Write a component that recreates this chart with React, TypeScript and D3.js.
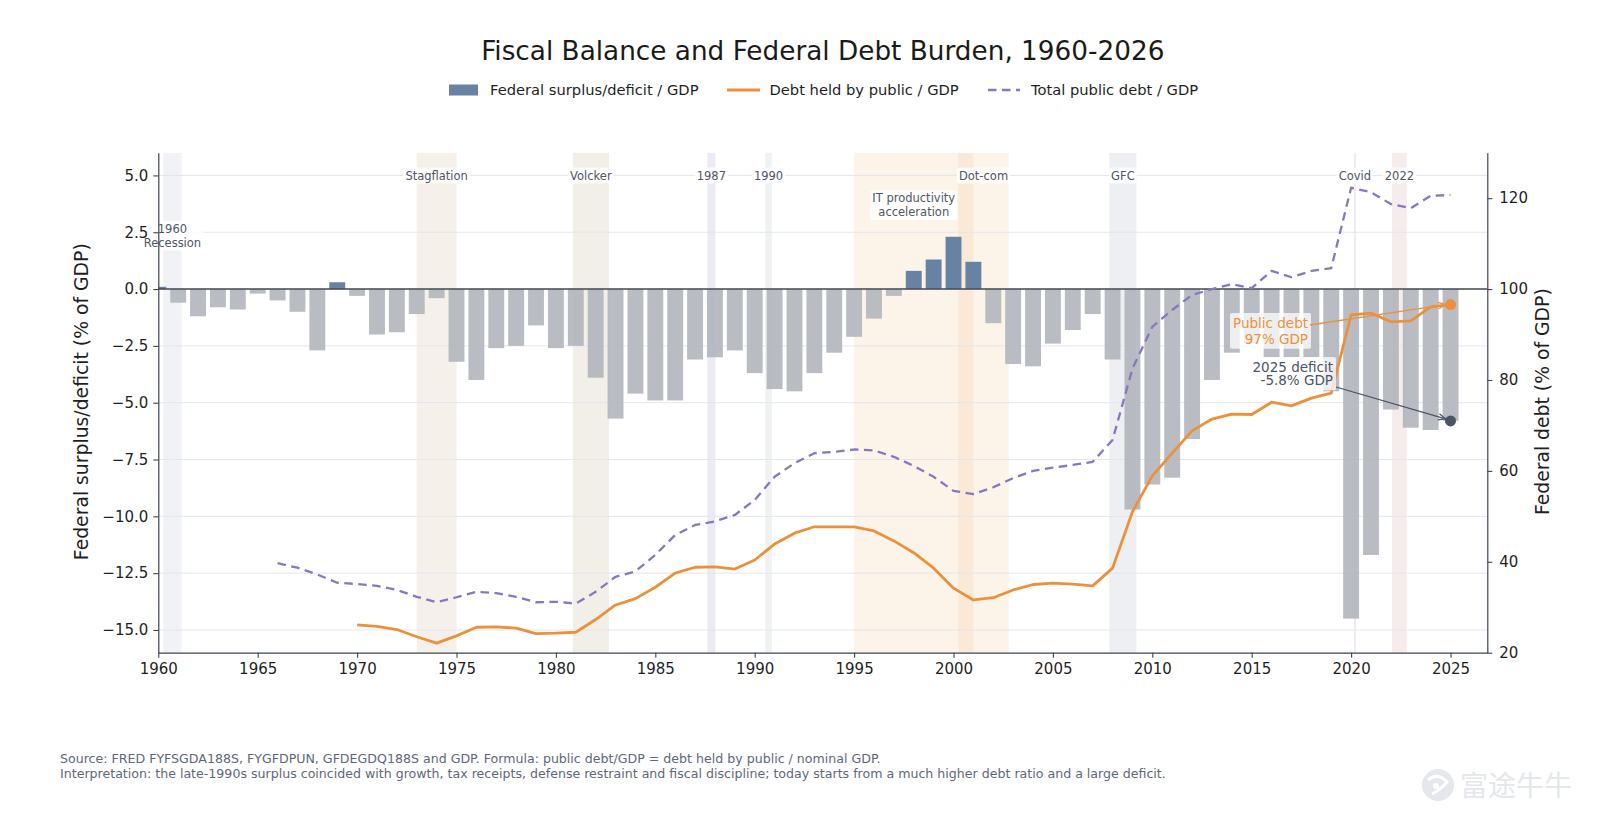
import React, { useEffect, useRef } from "react";
import * as d3 from "d3";

// ---------------- DATA ----------------
const balanceYears = d3.range(1960, 2026);
const balance = [
  0.1, -0.6, -1.2, -0.8, -0.9, -0.2, -0.5, -1.0, -2.7, 0.3,
  -0.3, -2.0, -1.9, -1.1, -0.4, -3.2, -4.0, -2.6, -2.5, -1.6,
  -2.6, -2.5, -3.9, -5.7, -4.6, -4.9, -4.9, -3.1, -3.0, -2.7,
  -3.7, -4.4, -4.5, -3.7, -2.8, -2.1, -1.3, -0.3, 0.8, 1.3,
  2.3, 1.2, -1.5, -3.3, -3.4, -2.4, -1.8, -1.1, -3.1, -9.7,
  -8.6, -8.3, -6.6, -4.0, -2.8, -2.4, -3.0, -3.0, -3.0, -4.5,
  -14.5, -11.7, -5.3, -6.1, -6.2, -5.8,
];

const publicDebtYears = d3.range(1970, 2026);
const publicDebt = [
  26.1, 25.8, 25.1, 23.5, 22.1, 23.7, 25.6, 25.7, 25.4, 24.2,
  24.3, 24.5, 27.3, 30.5, 31.9, 34.4, 37.5, 38.8, 38.9, 38.4,
  40.4, 43.9, 46.3, 47.7, 47.7, 47.7, 46.8, 44.6, 42.0, 38.6,
  34.2, 31.6, 32.1, 33.8, 35.0, 35.3, 35.1, 34.7, 38.6, 51.0,
  58.9, 63.9, 68.8, 71.4, 72.5, 72.4, 75.1, 74.3, 76.0, 77.1,
  94.3, 94.7, 92.8, 93.0, 96.1, 96.6,
];

const totalDebtYears = d3.range(1966, 2026);
const totalDebt = [
  39.7, 38.7, 37.2, 35.4,
  35.1, 34.7, 33.8, 32.3, 31.1, 32.2, 33.4, 33.1, 32.3, 31.1,
  31.2, 30.8, 33.4, 36.7, 37.9, 41.5, 45.9, 48.1, 48.9, 50.3,
  53.6, 58.7, 61.7, 63.9, 64.2, 64.7, 64.5, 63.1, 61.1, 58.7,
  55.6, 54.9, 56.4, 58.4, 60.0, 60.7, 61.3, 62.0, 66.8, 82.5,
  91.7, 95.4, 98.7, 100.0, 101.1, 100.2, 104.0, 102.6, 104.0, 104.6,
  122.3, 121.3, 118.7, 117.8, 120.5, 120.7,
];

const eventStarts = [1960.25, 1973.0, 1980.85, 1987.62, 1990.53, 1995.0, 2000.24, 2007.84, 2020.14, 2022.06];
const eventEnds = [1961.17, 1975.0, 1982.67, 1988.02, 1990.86, 2001.0, 2002.78, 2009.2, 2020.24, 2022.8];
const eventLabels = ["1960\nRecession", "Stagflation", "Volcker", "1987", "1990", "IT productivity\nacceleration", "Dot-com", "GFC", "Covid", "2022"];
const eventLabelLevels = [2.35, 5.0, 5.0, 5.0, 5.0, 3.7, 5.0, 5.0, 5.0, 5.0];
const eventColors = ["#e6e9ee", "#ebe1d3", "#e5ddd2", "#e2dfec", "#e2eae8", "#f0b77a", "#f0b77a", "#e1e4ea", "#dcd6ee", "#eedcdc"];
const eventOpacity = [0.6, 0.5, 0.5, 0.65, 0.6, 0.17, 0.17, 0.6, 0.5, 0.55];

const xTicks = d3.range(1960, 2026, 5);
const leftTicks = [-15, -12.5, -10, -7.5, -5, -2.5, 0, 2.5, 5];
const rightTicks = [20, 40, 60, 80, 100, 120];

const TITLE = "Fiscal Balance and Federal Debt Burden, 1960-2026";
const LEGEND = ["Federal surplus/deficit / GDP", "Debt held by public / GDP", "Total public debt / GDP"];
const FOOTER = [
  "Source: FRED FYFSGDA188S, FYGFDPUN, GFDEGDQ188S and GDP. Formula: public debt/GDP = debt held by public / nominal GDP.",
  "Interpretation: the late-1990s surplus coincided with growth, tax receipts, defense restraint and fiscal discipline; today starts from a much higher debt ratio and a large deficit.",
];

// ---------------- LAYOUT ----------------
const W = 1600;
const H = 822;
const M = { left: 158.3, right: 1487.3, top: 152.7, bottom: 652.7 };
const FONT = "'DejaVu Sans', sans-serif";
const C = {
  pos: "#6882a3",
  neg: "#adb2b9",
  orange: "#eb913c",
  purple: "#8977be",
  spine: "#3d4452",
  grid: "#e2e6ed",
  label: "#4f5665",
  dark: "#4a5466",
};

export default function App() {
  const ref = useRef<SVGSVGElement>(null);

  useEffect(() => {
    const svg = d3.select(ref.current);
    svg.selectAll("*").remove();

    const x = d3.scaleLinear().domain([1960, 2026.85]).range([M.left, M.right]);
    const yL = d3.scaleLinear().domain([-16, 6]).range([M.bottom, M.top]);
    const yR = d3.scaleLinear().domain([20, 130]).range([M.bottom, M.top]);

    const defs = svg.append("defs");
    defs.append("clipPath").attr("id", "plotclip").append("rect")
      .attr("x", M.left).attr("y", M.top).attr("width", M.right - M.left).attr("height", M.bottom - M.top);
    const mk = (id: string, color: string) => {
      defs.append("marker").attr("id", id).attr("viewBox", "0 0 10 10")
        .attr("refX", 9).attr("refY", 5).attr("markerWidth", 9).attr("markerHeight", 9)
        .attr("markerUnits", "userSpaceOnUse").attr("orient", "auto")
        .append("path").attr("d", "M1,1.5 L9,5 L1,8.5").attr("fill", "none")
        .attr("stroke", color).attr("stroke-width", 1.4);
    };
    mk("arrO", C.orange);
    mk("arrD", C.dark);

    svg.append("rect").attr("width", W).attr("height", H).attr("fill", "#fff");

    const plot = svg.append("g").attr("clip-path", "url(#plotclip)");

    // bands
    eventStarts.forEach((s, i) => {
      plot.append("rect")
        .attr("x", x(s)).attr("width", Math.max(1.5, x(eventEnds[i]) - x(s)))
        .attr("y", M.top).attr("height", M.bottom - M.top)
        .attr("fill", eventColors[i]).attr("fill-opacity", eventOpacity[i]);
    });

    // grid
    leftTicks.forEach((t) => {
      plot.append("line").attr("x1", M.left).attr("x2", M.right)
        .attr("y1", yL(t)).attr("y2", yL(t)).attr("stroke", C.grid).attr("stroke-width", 1);
    });

    // bars
    const bw = x(1960.4) - x(1960);
    plot.selectAll("rect.bar").data(balance).enter().append("rect")
      .attr("class", "bar")
      .attr("x", (_, i) => x(balanceYears[i]) - bw)
      .attr("width", bw * 2)
      .attr("y", (d) => (d >= 0 ? yL(d) : yL(0)))
      .attr("height", (d) => Math.abs(yL(d) - yL(0)))
      .attr("fill", (d) => (d >= 0 ? C.pos : C.neg))
      .attr("fill-opacity", (d) => (d >= 0 ? 1 : 0.85));

    // zero line
    plot.append("line").attr("x1", M.left).attr("x2", M.right)
      .attr("y1", yL(0)).attr("y2", yL(0)).attr("stroke", "#444a52").attr("stroke-width", 1.6);

    // lines
    const lineR = d3.line<[number, number]>().x((d) => x(d[0])).y((d) => yR(d[1]));
    plot.append("path")
      .attr("d", lineR(totalDebt.map((v, i) => [totalDebtYears[i], v])))
      .attr("fill", "none").attr("stroke", C.purple).attr("stroke-width", 2.3)
      .attr("stroke-dasharray", "8.5,5.5").attr("stroke-linejoin", "round");
    plot.append("path")
      .attr("d", lineR(publicDebt.map((v, i) => [publicDebtYears[i], v])))
      .attr("fill", "none").attr("stroke", C.orange).attr("stroke-width", 2.8)
      .attr("stroke-linejoin", "round");

    // text with bbox helper
    const boxedText = (
      parent: any, lines: string[], cx: number, cy: number, size: number, color: string,
      anchor: string, lineH: number, boxOpacity: number, pad: number
    ) => {
      const grp = parent.append("g");
      const rect = grp.append("rect");
      const t = grp.append("text").attr("font-family", FONT).attr("font-size", size)
        .attr("fill", color).attr("text-anchor", anchor);
      const n = lines.length;
      lines.forEach((ln, k) => {
        t.append("tspan").attr("x", cx)
          .attr("y", cy + (k - (n - 1) / 2) * lineH + size * 0.36)
          .text(ln);
      });
      const bb = (t.node() as SVGTextElement).getBBox();
      rect.attr("x", bb.x - pad).attr("y", bb.y - pad + 1)
        .attr("width", bb.width + 2 * pad).attr("height", bb.height + 2 * pad - 2)
        .attr("rx", 2).attr("fill", "#fff").attr("fill-opacity", boxOpacity);
      return bb;
    };

    // event labels
    const labelLayer = svg.append("g");
    eventLabels.forEach((lab, i) => {
      const cx = x((eventStarts[i] + eventEnds[i]) / 2);
      boxedText(labelLayer, lab.split("\n"), cx, yL(eventLabelLevels[i]), 11.5, C.label, "middle", 13.6, 0.85, 2);
    });

    // annotations
    const ann = svg.append("g");
    const pdX = x(2025), pdY = yR(publicDebt[publicDebt.length - 1]);
    const dfX = x(2025), dfY = yL(balance[balance.length - 1]);

    const b1 = boxedText(ann, ["Public debt", "97% GDP"], 1308, 331, 13.5, C.orange, "end", 15.8, 0.75, 3);
    ann.append("line").attr("x1", b1.x + b1.width + 2).attr("y1", 325)
      .attr("x2", pdX - 5).attr("y2", pdY)
      .attr("stroke", C.orange).attr("stroke-width", 1.3).attr("marker-end", "url(#arrO)");
    ann.append("circle").attr("cx", pdX).attr("cy", pdY).attr("r", 5.5).attr("fill", C.orange);

    const b2 = boxedText(ann, ["2025 deficit", "-5.8% GDP"], 1333, 373.7, 13.5, C.dark, "end", 13.2, 0.75, 3);
    ann.append("line").attr("x1", b2.x + b2.width + 3).attr("y1", 387)
      .attr("x2", dfX - 5).attr("y2", dfY - 2)
      .attr("stroke", C.dark).attr("stroke-width", 1.3).attr("marker-end", "url(#arrD)");
    ann.append("circle").attr("cx", dfX).attr("cy", dfY).attr("r", 5.5).attr("fill", C.dark);

    // axes
    const styleAxis = (g: any, size: number) => {
      g.selectAll("path.domain").attr("stroke", C.spine).attr("stroke-width", 1.2);
      g.selectAll(".tick line").attr("stroke", C.spine).attr("stroke-width", 1.1);
      g.selectAll(".tick text").attr("font-family", FONT).attr("font-size", size).attr("fill", "#1f1f1f");
    };
    const gx = svg.append("g").attr("transform", `translate(0,${M.bottom})`)
      .call(d3.axisBottom(x).tickValues(xTicks).tickFormat(d3.format("d")).tickSize(5).tickSizeOuter(0).tickPadding(6));
    styleAxis(gx, 15);
    const gl = svg.append("g").attr("transform", `translate(${M.left},0)`)
      .call(d3.axisLeft(yL).tickValues(leftTicks).tickFormat(d3.format(".1f")).tickSize(5).tickSizeOuter(0).tickPadding(5));
    styleAxis(gl, 15);
    const gr = svg.append("g").attr("transform", `translate(${M.right},0)`)
      .call(d3.axisRight(yR).tickValues(rightTicks).tickFormat(d3.format("d")).tickSize(5).tickSizeOuter(0).tickPadding(7));
    styleAxis(gr, 15);

    // axis labels
    svg.append("text").attr("transform", `translate(88,${(M.top + M.bottom) / 2 - 1}) rotate(-90)`)
      .attr("text-anchor", "middle").attr("font-family", FONT).attr("font-size", 18.8).attr("fill", "#1f1f1f")
      .text("Federal surplus/deficit (% of GDP)");
    svg.append("text").attr("transform", `translate(1549,${(M.top + M.bottom) / 2 - 1}) rotate(-90)`)
      .attr("text-anchor", "middle").attr("font-family", FONT).attr("font-size", 18.8).attr("fill", "#1f1f1f")
      .text("Federal debt (% of GDP)");

    // title
    svg.append("text").attr("x", (M.left + M.right) / 2).attr("y", 60).attr("text-anchor", "middle")
      .attr("font-family", FONT).attr("font-size", 26.3).attr("fill", "#1a1a1a").text(TITLE);

    // legend
    const lg = svg.append("g").attr("font-family", FONT).attr("font-size", 14.7).attr("fill", "#1f1f1f");
    const ly = 90;
    lg.append("rect").attr("x", 449).attr("y", ly - 5.5).attr("width", 29).attr("height", 11).attr("fill", C.pos);
    lg.append("text").attr("x", 490).attr("y", ly + 5.2).text(LEGEND[0]);
    lg.append("line").attr("x1", 727).attr("x2", 760).attr("y1", ly).attr("y2", ly)
      .attr("stroke", C.orange).attr("stroke-width", 2.8);
    lg.append("text").attr("x", 769.5).attr("y", ly + 5.2).text(LEGEND[1]);
    lg.append("line").attr("x1", 988).attr("x2", 1020).attr("y1", ly).attr("y2", ly)
      .attr("stroke", C.purple).attr("stroke-width", 2.3).attr("stroke-dasharray", "8.5,5.5");
    lg.append("text").attr("x", 1031).attr("y", ly + 5.2).text(LEGEND[2]);

    // footer
    FOOTER.forEach((f, i) => {
      svg.append("text").attr("x", 60).attr("y", 763 + i * 14.5).attr("font-family", FONT)
        .attr("font-size", 12.6).attr("fill", "#5f6878").text(f);
    });

    // watermark
    const wm = svg.append("g").attr("fill", "#e4e7eb");
    wm.append("circle").attr("cx", 1438).attr("cy", 785).attr("r", 16);
    wm.append("path").attr("d", "M1428,780 Q1438,772 1447,782 Q1440,790 1432,794").attr("fill", "none")
      .attr("stroke", "#fff").attr("stroke-width", 3);
    wm.append("circle").attr("cx", 1436).attr("cy", 786).attr("r", 3).attr("fill", "#fff");
    wm.append("text").attr("x", 1460).attr("y", 796).attr("font-family", "'Noto Sans CJK SC', sans-serif")
      .attr("font-size", 28).text("富途牛牛");
  }, []);

  return (
    <svg ref={ref} width={W} height={H}
      style={{ position: "absolute", left: 0, top: 0, display: "block" }} />
  );
}
